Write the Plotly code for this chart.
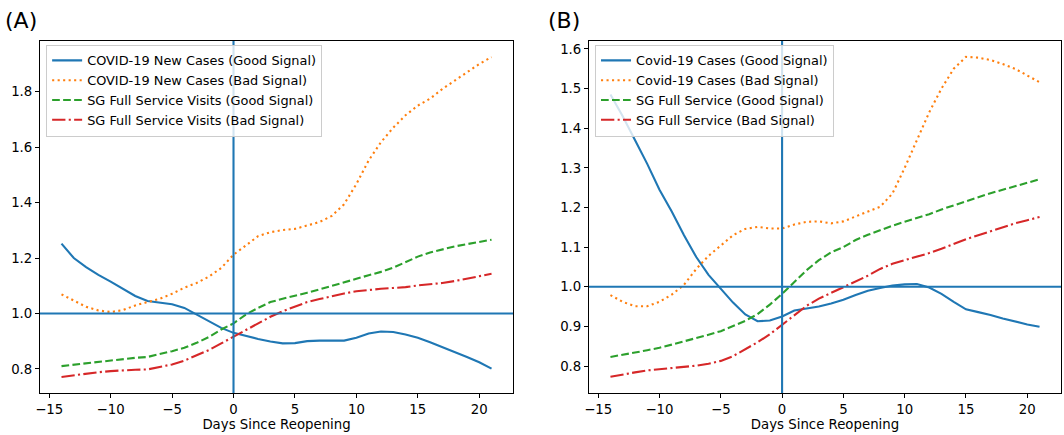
import plotly.graph_objects as go

days = list(range(-14, 22))

# Panel A
a_cases_good = [1.252, 1.20, 1.167, 1.139, 1.115, 1.09, 1.063, 1.045, 1.038, 1.033, 1.02, 0.996, 0.969, 0.948,
                0.93, 0.918, 0.908, 0.899, 0.892, 0.893, 0.90, 0.902, 0.901, 0.902, 0.912, 0.928, 0.935, 0.933,
                0.924, 0.912, 0.896, 0.879, 0.861, 0.843, 0.824, 0.801]
a_cases_bad = [1.069, 1.045, 1.024, 1.011, 1.005, 1.012, 1.029, 1.041, 1.053, 1.071, 1.093, 1.11, 1.133, 1.164,
               1.212, 1.245, 1.279, 1.293, 1.301, 1.305, 1.318, 1.33, 1.352, 1.394, 1.467, 1.552, 1.618, 1.67,
               1.715, 1.75, 1.775, 1.81, 1.84, 1.87, 1.90, 1.925]
a_visits_good = [0.81, 0.815, 0.82, 0.825, 0.83, 0.836, 0.84, 0.843, 0.853, 0.864, 0.876, 0.894, 0.915, 0.942,
                 0.964, 0.996, 1.02, 1.041, 1.053, 1.063, 1.075, 1.087, 1.099, 1.111, 1.125, 1.138, 1.15, 1.165,
                 1.185, 1.205, 1.22, 1.232, 1.242, 1.25, 1.258, 1.266]
a_visits_bad = [0.771, 0.777, 0.783, 0.788, 0.792, 0.795, 0.797, 0.798, 0.806, 0.816, 0.83, 0.848, 0.868, 0.892,
                0.916, 0.941, 0.966, 0.988, 1.008, 1.025, 1.041, 1.052, 1.063, 1.072, 1.08, 1.085, 1.089, 1.092,
                1.095, 1.101, 1.105, 1.11, 1.117, 1.125, 1.135, 1.143]

# Panel B
b_cases_good = [1.485, 1.43, 1.37, 1.31, 1.245, 1.19, 1.13, 1.075, 1.03, 0.995, 0.96, 0.93, 0.913, 0.915,
                0.925, 0.94, 0.945, 0.95, 0.958, 0.967, 0.979, 0.99, 0.997, 1.003, 1.006, 1.007, 0.998, 0.982,
                0.962, 0.943, 0.936, 0.929, 0.92, 0.912, 0.905, 0.899]
b_cases_bad = [0.979, 0.962, 0.951, 0.951, 0.962, 0.98, 1.005, 1.045, 1.078, 1.105, 1.13, 1.146, 1.151, 1.147,
               1.147, 1.157, 1.164, 1.165, 1.16, 1.165, 1.178, 1.19, 1.202, 1.235, 1.30, 1.37, 1.44, 1.50,
               1.55, 1.58, 1.578, 1.572, 1.562, 1.55, 1.533, 1.516]
b_visits_good = [0.823, 0.828, 0.834, 0.84, 0.846, 0.854, 0.862, 0.871, 0.879, 0.888, 0.90, 0.914, 0.931, 0.955,
                 0.982, 1.012, 1.042, 1.067, 1.087, 1.10, 1.118, 1.131, 1.143, 1.154, 1.164, 1.173, 1.183, 1.195,
                 1.206, 1.216, 1.226, 1.236, 1.245, 1.254, 1.262, 1.271]
b_visits_bad = [0.773, 0.779, 0.784, 0.789, 0.792, 0.795, 0.798, 0.801, 0.806, 0.813, 0.825, 0.842, 0.86, 0.88,
                0.904, 0.928, 0.952, 0.97, 0.984, 0.998, 1.012, 1.028, 1.045, 1.058, 1.067, 1.076, 1.085, 1.096,
                1.109, 1.12, 1.13, 1.14, 1.15, 1.16, 1.168, 1.176]

a_names = ["COVID-19 New Cases (Good Signal)", "COVID-19 New Cases (Bad Signal)",
           "SG Full Service Visits (Good Signal)", "SG Full Service Visits (Bad Signal)"]
b_names = ["Covid-19 Cases (Good Signal)", "Covid-19 Cases (Bad Signal)",
           "SG Full Service (Good Signal)", "SG Full Service (Bad Signal)"]

colors = ["#1f77b4", "#ff7f0e", "#2ca02c", "#d62728"]
dashes = ["solid", "2.1px,3.4px", "7.7px,3.3px", "13.3px,3.3px,2.1px,3.3px"]

fig = go.Figure()
for i, (ys, nm) in enumerate(zip([a_cases_good, a_cases_bad, a_visits_good, a_visits_bad], a_names)):
    fig.add_trace(go.Scatter(x=days, y=ys, name=nm, mode="lines", xaxis="x", yaxis="y", legend="legend",
                             line=dict(color=colors[i], width=2.1, dash=dashes[i])))
for i, (ys, nm) in enumerate(zip([b_cases_good, b_cases_bad, b_visits_good, b_visits_bad], b_names)):
    fig.add_trace(go.Scatter(x=days, y=ys, name=nm, mode="lines", xaxis="x2", yaxis="y2", legend="legend2",
                             line=dict(color=colors[i], width=2.1, dash=dashes[i])))

FS = 13.3
LFS = 12.9
axis_common = dict(showline=True, linecolor="black", linewidth=1.1, mirror=True, showgrid=False, zeroline=False,
                   ticks="outside", ticklen=4, tickwidth=1.1, tickcolor="black",
                   tickfont=dict(family="DejaVu Sans", size=FS, color="black"))

xt = [-15, -10, -5, 0, 5, 10, 15, 20]
fig.update_layout(
    width=1064, height=435,
    margin=dict(l=40, r=3, t=41, b=42),
    paper_bgcolor="white", plot_bgcolor="white",
    font=dict(family="DejaVu Sans", color="black"),
    xaxis=dict(domain=[0, 0.4633], range=[-15.75, 22.75], tickvals=xt, anchor="y",
               title=dict(text="Days Since Reopening", font=dict(size=FS, color="black"), standoff=2),
               **axis_common),
    yaxis=dict(domain=[0, 1], range=[0.713, 1.983], tickvals=[0.8, 1.0, 1.2, 1.4, 1.6, 1.8],
               tickformat=".1f", anchor="x", **axis_common),
    xaxis2=dict(domain=[0.5377, 1], range=[-15.75, 22.75], tickvals=xt, anchor="y2",
                title=dict(text="Days Since Reopening", font=dict(size=FS, color="black"), standoff=2),
                **axis_common),
    yaxis2=dict(domain=[0, 1], range=[0.732, 1.62], tickvals=[0.8, 0.9, 1.0, 1.1, 1.2, 1.3, 1.4, 1.5, 1.6],
                tickformat=".1f", anchor="x2", **axis_common),
    legend=dict(x=0.006, y=0.99, xanchor="left", yanchor="top", bgcolor="rgba(255,255,255,0.8)",
                bordercolor="#cccccc", borderwidth=1, font=dict(size=LFS, color="black"),
                itemwidth=30, tracegroupgap=0),
    legend2=dict(x=0.5436, y=0.99, xanchor="left", yanchor="top", bgcolor="rgba(255,255,255,0.8)",
                 bordercolor="#cccccc", borderwidth=1, font=dict(size=LFS, color="black"),
                 itemwidth=30, tracegroupgap=0),
    showlegend=True,
    annotations=[
        dict(text="(A)", x=0, y=1, xref="paper", yref="paper", xanchor="left", yanchor="bottom",
             xshift=-37, yshift=6, showarrow=False, font=dict(size=22, color="black")),
        dict(text="(B)", x=0.5377, y=1, xref="paper", yref="paper", xanchor="left", yanchor="bottom",
             xshift=-43, yshift=6, showarrow=False, font=dict(size=22, color="black")),
    ],
    shapes=[
        dict(type="line", xref="x", yref="y domain", x0=0, x1=0, y0=0, y1=1,
             line=dict(color="#1f77b4", width=2.1)),
        dict(type="line", xref="x domain", yref="y", x0=0, x1=1, y0=1, y1=1,
             line=dict(color="#1f77b4", width=2.1)),
        dict(type="line", xref="x2", yref="y2 domain", x0=0, x1=0, y0=0, y1=1,
             line=dict(color="#1f77b4", width=2.1)),
        dict(type="line", xref="x2 domain", yref="y2", x0=0, x1=1, y0=1, y1=1,
             line=dict(color="#1f77b4", width=2.1)),
    ],
)

fig.write_html("out.html", config={"displayModeBar": False},
               post_script="document.body.style.margin='0';document.body.style.overflow='hidden';")
